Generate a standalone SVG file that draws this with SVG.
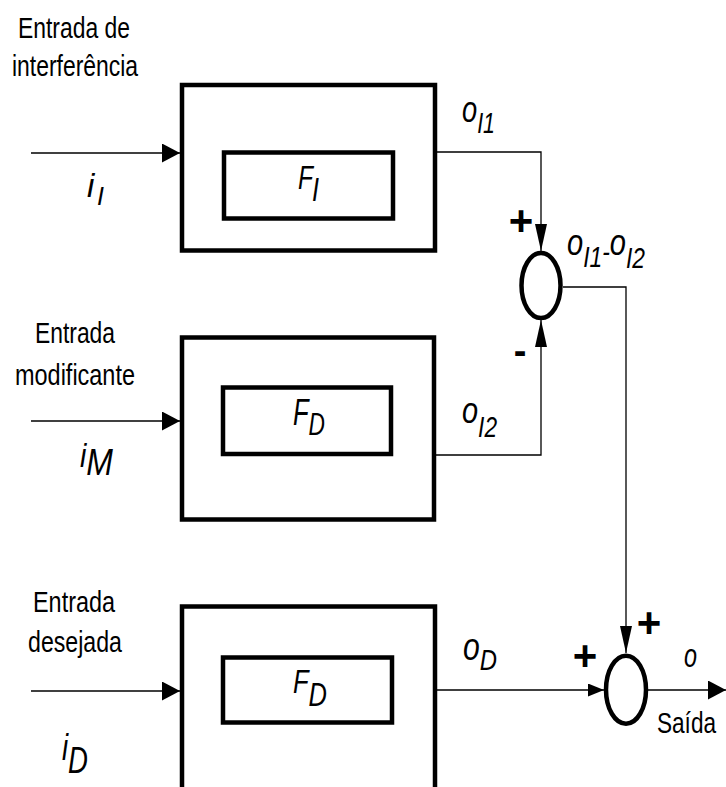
<svg xmlns="http://www.w3.org/2000/svg" width="726" height="787" viewBox="0 0 726 787">
<style>
.bx{fill:none;stroke:#000;stroke-width:4.5}
.w{fill:none;stroke:#000;stroke-width:1.3}
.t{font-family:"Liberation Sans",Arial,sans-serif;fill:#000;font-size:30px}
.m{font-family:"Liberation Sans",Arial,sans-serif;fill:#000;font-style:italic}
.s{font-family:"Liberation Sans",Arial,sans-serif;fill:#000;font-weight:bold;text-anchor:middle}
</style>
<defs>
<marker id="aBig" viewBox="0 0 18 19" refX="18" refY="9.5" markerWidth="18" markerHeight="19" markerUnits="userSpaceOnUse" orient="auto"><path d="M0,0 L18,9.5 L0,19 z" fill="#000"/></marker>
<marker id="aLong" viewBox="0 0 27 12" refX="27" refY="6" markerWidth="27" markerHeight="12" markerUnits="userSpaceOnUse" orient="auto"><path d="M0,0 L27,6 L0,12 z" fill="#000"/></marker>
<marker id="aShort" viewBox="0 0 16 13" refX="16" refY="6.5" markerWidth="16" markerHeight="13" markerUnits="userSpaceOnUse" orient="auto"><path d="M0,0 L16,6.5 L0,13 z" fill="#000"/></marker>
</defs>
<rect width="726" height="787" fill="#fff"/>

<g id="connectors">
<path class="w" d="M31,153 H180" marker-end="url(#aBig)"/>
<path class="w" d="M31,421 H180" marker-end="url(#aBig)"/>
<path class="w" d="M31,691 H180" marker-end="url(#aBig)"/>
<path class="w" d="M437,152 H541 V251" marker-end="url(#aLong)"/>
<path class="w" d="M436,455 H541 V320" marker-end="url(#aLong)"/>
<path class="w" d="M563,287 H626 V653" marker-end="url(#aLong)"/>
<path class="w" d="M437,690 H604" marker-end="url(#aShort)"/>
<path class="w" d="M648,690 H726" marker-end="url(#aBig)"/>
</g>

<g id="input-interference">
<text class="t" x="18" y="38" textLength="112" lengthAdjust="spacingAndGlyphs">Entrada de</text>
<text class="t" x="12" y="76" textLength="126" lengthAdjust="spacingAndGlyphs">interferência</text>
<text class="m" x="87" y="197" font-size="33">i</text>
<text class="m" x="97" y="205" font-size="25">I</text>
</g>

<g id="block-FI">
<rect class="bx" x="182" y="85" width="253" height="165.5"/>
<rect class="bx" x="224" y="152.5" width="169" height="66"/>
<text class="m" x="298" y="189" font-size="33" textLength="15" lengthAdjust="spacingAndGlyphs">F</text>
<text class="m" x="312" y="201" font-size="34" textLength="7" lengthAdjust="spacingAndGlyphs">I</text>
<text class="m" x="462" y="122" font-size="37" textLength="33" lengthAdjust="spacingAndGlyphs">o<tspan font-size="29" dy="11">I1</tspan></text>
</g>

<g id="input-modifying">
<text class="t" x="35" y="343" textLength="80" lengthAdjust="spacingAndGlyphs">Entrada</text>
<text class="t" x="15" y="385" textLength="120" lengthAdjust="spacingAndGlyphs">modificante</text>
<text class="m" x="80" y="467" font-size="33" textLength="33" lengthAdjust="spacingAndGlyphs">i<tspan font-size="37" dy="8">M</tspan></text>
</g>

<g id="block-FD-modifying">
<rect class="bx" x="182" y="337.5" width="252" height="182"/>
<rect class="bx" x="223" y="387.5" width="168" height="66.5"/>
<text class="m" x="293" y="425" font-size="36" textLength="32" lengthAdjust="spacingAndGlyphs">F<tspan font-size="32" dy="10">D</tspan></text>
<text class="m" x="462" y="423" font-size="37" textLength="35" lengthAdjust="spacingAndGlyphs">o<tspan font-size="29" dy="14">I2</tspan></text>
</g>

<g id="sum-interference">
<ellipse class="bx" cx="541" cy="285.5" rx="19.5" ry="32.5"/>
<text class="s" x="521" y="235" font-size="42">+</text>
<text class="s" x="520" y="364" font-size="38">-</text>
<text class="m" x="567" y="255" font-size="37" textLength="78" lengthAdjust="spacingAndGlyphs">o<tspan font-size="29" dy="12">I1</tspan><tspan font-size="29" dy="-5">-</tspan><tspan font-size="37" dy="-7">o</tspan><tspan font-size="29" dy="13">I2</tspan></text>
</g>

<g id="input-desired">
<text class="t" x="33" y="612" textLength="82" lengthAdjust="spacingAndGlyphs">Entrada</text>
<text class="t" x="28" y="652" textLength="94" lengthAdjust="spacingAndGlyphs">desejada</text>
<text class="m" x="62" y="760" font-size="36" textLength="26" lengthAdjust="spacingAndGlyphs">i<tspan font-size="36" dy="13">D</tspan></text>
</g>

<g id="block-FD-desired">
<rect class="bx" x="182" y="606.5" width="253" height="200"/>
<rect class="bx" x="223" y="657.5" width="169" height="65"/>
<text class="m" x="293" y="693" font-size="33" textLength="34" lengthAdjust="spacingAndGlyphs">F<tspan font-size="33" dy="13">D</tspan></text>
<text class="m" x="463" y="660" font-size="38" textLength="34" lengthAdjust="spacingAndGlyphs">o<tspan font-size="30" dy="10">D</tspan></text>
</g>

<g id="sum-output">
<ellipse class="bx" cx="626" cy="689.7" rx="20" ry="34"/>
<text class="s" x="649" y="637" font-size="42">+</text>
<text class="s" x="585" y="670" font-size="42">+</text>
<text class="m" x="684" y="667" font-size="34" textLength="13" lengthAdjust="spacingAndGlyphs">o</text>
<text class="t" x="657" y="733" textLength="59" lengthAdjust="spacingAndGlyphs">Saída</text>
</g>
</svg>
